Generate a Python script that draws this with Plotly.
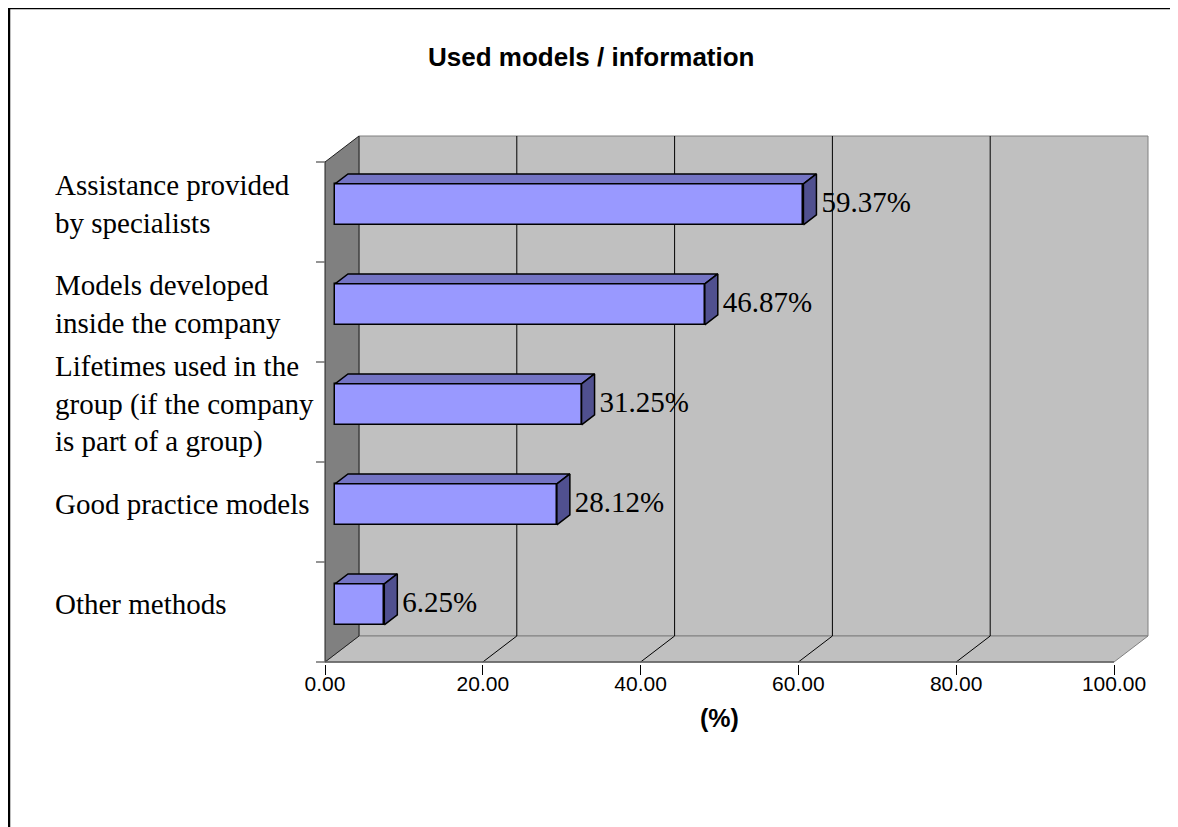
import plotly.graph_objects as go

# ------------------------------------------------------------------ data
categories = [
    "Other methods",
    "Good practice models",
    "Lifetimes used in the<br>group (if the company<br>is part of a group)",
    "Models developed<br>inside the company",
    "Assistance provided<br>by specialists",
]
values = [6.25, 28.12, 31.25, 46.87, 59.37]
value_labels = ["6.25%", "28.12%", "31.25%", "46.87%", "59.37%"]
tick_vals = [0, 20, 40, 60, 80, 100]
tick_text = ["0.00", "20.00", "40.00", "60.00", "80.00", "100.00"]

TITLE = "Used models / information"
X_TITLE = "(%)"

# ------------------------------------------------------------------ geometry (pixels -> data units)
# the page body adds an 8px margin, so the figure itself is 8px smaller
W, H = 1170, 819
PX = 7.89          # pixels per percent
PY = 100.0         # pixels per category
X0_PX = 317        # pixel of 0 % on the front plane
Y0_PX = 604        # pixel of first category centre on the front plane
BOTTOM_PX = 656    # bottom edge of the plotting domain

DX = 34 / PX       # full depth, x shift
DY = 26 / PY       # full depth, y shift
D0, D1 = 10 / 34, 23 / 34   # bar front / back depth fractions
HALF = 0.205       # half bar height (categories)

SERIF = "Liberation Serif, Times New Roman, serif"
SANS = "Liberation Sans, Arial, sans-serif"

FRONT = "#9999FF"
TOP = "#7474C4"
SIDE = "#50508F"


def pt(v, u, d):
    return v + d * DX, u + d * DY


def path(points):
    return "M " + " L ".join(f"{x},{y}" for x, y in points) + " Z"


n = len(categories)
lo, hi = -0.5, n - 0.5
xmax = max(tick_vals)

shapes = []
# back wall
shapes.append(dict(type="path", xref="x", yref="y", layer="below",
                   path=path([pt(0, lo, 1), pt(xmax, lo, 1), pt(xmax, hi, 1), pt(0, hi, 1)]),
                   fillcolor="#C0C0C0", line=dict(color="#808080", width=1)))
# floor
shapes.append(dict(type="path", xref="x", yref="y", layer="below",
                   path=path([pt(0, lo, 0), pt(xmax, lo, 0), pt(xmax, lo, 1), pt(0, lo, 1)]),
                   fillcolor="#C0C0C0", line=dict(color="#808080", width=1)))
# left wall
shapes.append(dict(type="path", xref="x", yref="y", layer="below",
                   path=path([pt(0, lo, 0), pt(0, hi, 0), pt(0, hi, 1), pt(0, lo, 1)]),
                   fillcolor="#808080", line=dict(color="#202020", width=1)))
# gridlines on back wall and floor
for t in tick_vals[1:-1]:
    (ax, ay), (bx, by) = pt(t, lo, 1), pt(t, hi, 1)
    shapes.append(dict(type="line", xref="x", yref="y", layer="below",
                       x0=ax, y0=ay, x1=bx, y1=by, line=dict(color="#000000", width=1)))
    (cx, cy) = pt(t, lo, 0)
    shapes.append(dict(type="line", xref="x", yref="y", layer="below",
                       x0=cx, y0=cy, x1=ax, y1=ay, line=dict(color="#000000", width=1)))
# floor front edge
shapes.append(dict(type="line", xref="x", yref="y", layer="below",
                   x0=0, y0=lo, x1=xmax, y1=lo, line=dict(color="#606060", width=1.5)))
# category tick marks on the wall
for k in range(n + 1):
    shapes.append(dict(type="line", xref="x", yref="y", layer="below",
                       x0=-9 / PX, y0=k - 0.5, x1=0, y1=k - 0.5,
                       line=dict(color="#707070", width=1.5)))
# outer frame
shapes.append(dict(type="rect", xref="paper", yref="paper",
                   x0=1 / W, x1=1.05, y0=-0.05, y1=1,
                   line=dict(color="#000000", width=2.5), fillcolor="rgba(0,0,0,0)"))

fig = go.Figure()

# bar front faces
ypos = [i + D0 * DY for i in range(n)]
fig.add_trace(go.Bar(
    orientation="h", y=ypos, x=values, base=D0 * DX, width=2 * HALF,
    marker=dict(color=FRONT, line=dict(color="#000000", width=1.5)),
    hoverinfo="skip", showlegend=False,
))

# bar top and side faces
tx, ty, sx, sy = [], [], [], []
for i, v in enumerate(values):
    for p in [pt(0, i + HALF, D0), pt(v, i + HALF, D0), pt(v, i + HALF, D1), pt(0, i + HALF, D1), pt(0, i + HALF, D0)]:
        tx.append(p[0]); ty.append(p[1])
    tx.append(None); ty.append(None)
    for p in [pt(v, i - HALF, D0), pt(v, i + HALF, D0), pt(v, i + HALF, D1), pt(v, i - HALF, D1), pt(v, i - HALF, D0)]:
        sx.append(p[0]); sy.append(p[1])
    sx.append(None); sy.append(None)

fig.add_trace(go.Scatter(x=tx, y=ty, mode="lines", fill="toself", fillcolor=TOP,
                         line=dict(color="#000000", width=1.5), hoverinfo="skip", showlegend=False))
fig.add_trace(go.Scatter(x=sx, y=sy, mode="lines", fill="toself", fillcolor=SIDE,
                         line=dict(color="#000000", width=1.5), hoverinfo="skip", showlegend=False))

# value labels
fig.add_trace(go.Scatter(
    x=[v + D1 * DX + 5 / PX for v in values], y=ypos, mode="text", text=value_labels,
    textposition="middle right", textfont=dict(family=SERIF, size=29, color="#000000"),
    cliponaxis=False, hoverinfo="skip", showlegend=False,
))

annotations = []
for i, c in enumerate(categories):
    annotations.append(dict(text=c, xref="paper", yref="y", x=45 / W, y=ypos[i],
                            xanchor="left", yanchor="middle", align="left", showarrow=False,
                            font=dict(family=SERIF, size=29, color="#000000")))
annotations.append(dict(text=f"<b>{TITLE}</b>", xref="paper", yref="paper",
                        x=583 / W, y=1 - 49 / H, xanchor="center", yanchor="middle",
                        showarrow=False, font=dict(family=SANS, size=26, color="#000000")))
annotations.append(dict(text=f"<b>{X_TITLE}</b>", xref="x", yref="paper",
                        x=xmax / 2, y=1 - 710 / H, xanchor="center", yanchor="middle",
                        showarrow=False, font=dict(family=SANS, size=25, color="#000000")))

fig.update_layout(
    width=W, height=H,
    margin=dict(l=0, r=0, t=0, b=0),
    paper_bgcolor="#FFFFFF", plot_bgcolor="#FFFFFF",
    bargap=0, showlegend=False,
    shapes=shapes, annotations=annotations,
    xaxis=dict(domain=[0, 1], range=[-X0_PX / PX, (W - X0_PX) / PX],
               tickvals=tick_vals, ticktext=tick_text, ticks="outside", ticklen=10,
               ticklabelstandoff=-9,
               tickcolor="#000000", tickwidth=1, showgrid=False, zeroline=False,
               showline=False, tickfont=dict(family=SANS, size=21, color="#000000"),
               fixedrange=True),
    yaxis=dict(domain=[(H - BOTTOM_PX) / H, 1],
               range=[(Y0_PX - BOTTOM_PX) / PY, Y0_PX / PY],
               visible=False, fixedrange=True),
)

fig.write_html("out.html")
